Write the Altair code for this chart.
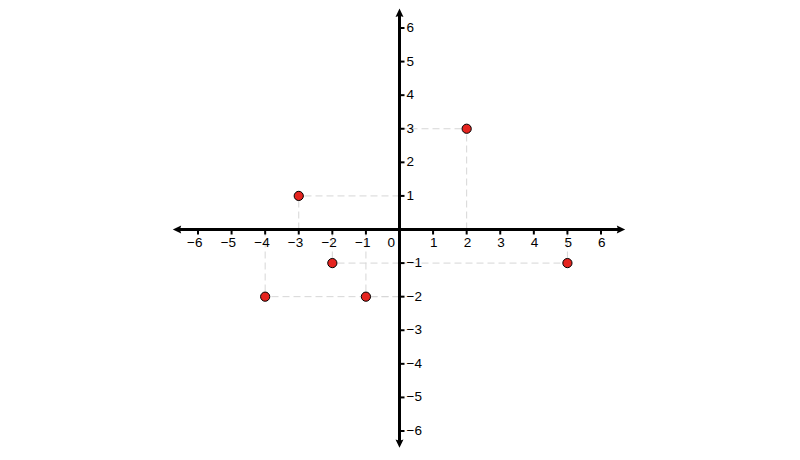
import altair as alt
import pandas as pd

# Data points
px = [2, -3, -2, 5, -4, -1]
py = [3, 1, -1, -1, -2, -2]

# Tick values and labels
tick_vals = [-6, -5, -4, -3, -2, -1, 1, 2, 3, 4, 5, 6]
tick_text = ["−6", "−5", "−4", "−3", "−2", "−1", "1", "2", "3", "4", "5", "6"]

# Visible extent of the axis arrows (data units)
x_tip = [-6.75, 6.72]
y_tip = [-6.5, 6.58]

xs = alt.Scale(domain=[-6, 6], nice=False, zero=False)
ys = alt.Scale(domain=[-6, 6], nice=False, zero=False)


def X(f):
    return alt.X(f, type="quantitative", scale=xs, axis=None)


def Y(f):
    return alt.Y(f, type="quantitative", scale=ys, axis=None)


def X2(f):
    return alt.X2(f)


def Y2(f):
    return alt.Y2(f)


# dashed guide segments from each point to the axes
seg_rows = []
for a, b in zip(px, py):
    seg_rows.append({"x": 0, "y": b, "x2": a, "y2": b})
    seg_rows.append({"x": a, "y": 0, "x2": a, "y2": b})
segs = pd.DataFrame(seg_rows)

guides = alt.Chart(segs).mark_rule(
    color="#d6d6d6", strokeWidth=1, strokeDash=[7, 4]
).encode(x=X("x"), y=Y("y"), x2=X2("x2"), y2=Y2("y2"))

# axis lines
axes_df = pd.DataFrame([
    {"x": x_tip[0] + 0.12, "y": 0, "x2": x_tip[1] - 0.12, "y2": 0},
    {"x": 0, "y": y_tip[0] + 0.12, "x2": 0, "y2": y_tip[1] - 0.12},
])
axes = alt.Chart(axes_df).mark_rule(color="black", strokeWidth=3).encode(
    x=X("x"), y=Y("y"), x2=X2("x2"), y2=Y2("y2")
)

# arrow heads
arrows_df = pd.DataFrame([
    {"x": x_tip[0], "y": 0, "a": 270},
    {"x": x_tip[1], "y": 0, "a": 90},
    {"x": 0, "y": y_tip[1], "a": 0},
    {"x": 0, "y": y_tip[0], "a": 180},
])
arrows = alt.Chart(arrows_df).mark_point(
    shape="M0,0L0.95,2L0,1.7L-0.95,2Z", size=70, filled=True,
    color="black", opacity=1, strokeWidth=0
).encode(x=X("x"), y=Y("y"), angle=alt.Angle("a:Q", scale=None))

ticks_df = pd.DataFrame({"v": tick_vals, "t": tick_text, "z": [0] * len(tick_vals)})

xticks = alt.Chart(ticks_df).mark_rule(
    color="black", strokeWidth=2, y2Offset=5
).encode(x=X("v"), y=Y("z"), y2=Y2("z"))

yticks = alt.Chart(ticks_df).mark_rule(
    color="black", strokeWidth=2, x2Offset=5
).encode(y=Y("v"), x=X("z"), x2=X2("z"))

FONT = "Liberation Sans"
xlabels = alt.Chart(ticks_df).mark_text(
    align="right", baseline="middle", dx=4.5, dy=13, fontSize=13.5,
    font=FONT, color="black"
).encode(x=X("v"), y=Y("z"), text="t:N")

ylabels = alt.Chart(ticks_df).mark_text(
    align="left", baseline="middle", dx=7, fontSize=13.5,
    font=FONT, color="black"
).encode(y=Y("v"), x=X("z"), text="t:N")

zero_df = pd.DataFrame({"v": [0], "t": ["0"]})
zlabel = alt.Chart(zero_df).mark_text(
    align="right", baseline="middle", dx=-4.5, dy=13, fontSize=13.5,
    font=FONT, color="black"
).encode(x=X("v"), y=Y("v"), text="t:N")

pts_df = pd.DataFrame({"x": px, "y": py})
points = alt.Chart(pts_df).mark_point(
    shape="circle", size=85, filled=True, fill="#e5241f", stroke="black",
    strokeWidth=1, opacity=1
).encode(x=X("x"), y=Y("y"))

chart = alt.layer(
    guides, axes, xticks, yticks, arrows, xlabels, ylabels, zlabel, points
).properties(
    width=403, height=403,
    autosize=alt.AutoSizeParams(type="none"),
    padding={"left": 190, "top": 20, "right": 191, "bottom": 17},
).configure_view(stroke=None)

chart.save("out.html", embed_options={"renderer": "svg", "actions": False})
